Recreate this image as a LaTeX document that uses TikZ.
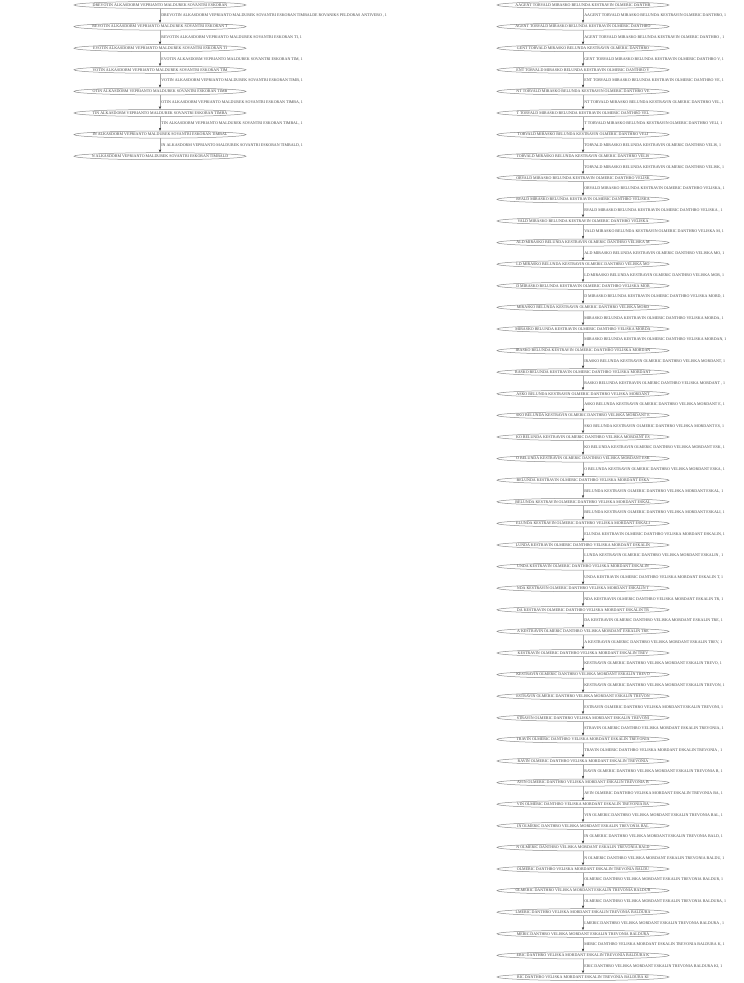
\documentclass[tikz,border=0pt]{standalone}
\usepackage{fontspec}
\setmainfont{Liberation Serif}
\usetikzlibrary{arrows.meta,shapes.geometric}
\ExplSyntaxOn
\str_new:N \g_rs_right_str
\str_new:N \g_rs_left_str
\NewDocumentCommand\rsSetRight{m}{\str_gset:Nn \g_rs_right_str {#1}}
\NewDocumentCommand\rsSetLeft{m}{\str_gset:Nn \g_rs_left_str {#1}}
\cs_new:Npn \rsR #1#2 {\str_range:Nnn \g_rs_right_str {#1}{#2}}
\cs_new:Npn \rsL #1#2 {\str_range:Nnn \g_rs_left_str {#1}{#2}}
\ExplSyntaxOff
\rsSetRight{AAGENT TORVALD MIRASKO BELUNDA KESTRAVIN OLMERIC DANTHRO VELISKA MORDANT ESKALIN TREVONIA BALDURA KIMOSTEN PARVELIN ODRASKA}
\rsSetLeft{DREVOTIN ALKASDORM VEPRIANTO MALDUREK SOVANTRI ESKORAN TIMBALDE ROVANIKS PELDORAS ANTIVERO MUSKARDEN}
\tikzset{
  ell/.style={ellipse, draw=black!45, line width=0.5pt, minimum width=172pt, minimum height=7pt,
    inner xsep=-25pt, inner ysep=0pt, font=\fontsize{4}{4}\selectfont, text=black!75},
  edge/.style={draw=black!35, line width=0.7pt, -{Stealth[length=3pt,width=2.2pt,color=black!85]}},
  lbl/.style={anchor=west, inner sep=1pt, font=\fontsize{4}{4}\selectfont, text=black!75}
}
\begin{document}
\begin{tikzpicture}[x=1pt,y=-1pt]
\useasboundingbox (0,0) rectangle (744,983);
% left chain
\foreach \i in {0,...,7} {
  \pgfmathsetmacro\yy{5+21.6*\i}
  \pgfmathtruncatemacro\a{\i+1}
  \pgfmathtruncatemacro\b{\i+55}
  \node[ell] (L\i) at (160,\yy) {\rsL{\a}{\b}};
}
\draw[edge] (L0) -- (L1) node[lbl, midway] (LE0) {\rsL{1}{91}, 1};
\foreach \i in {1,...,6} {
  \pgfmathtruncatemacro\j{\i+1}
  \pgfmathtruncatemacro\a{\i+1}
  \pgfmathtruncatemacro\c{\i+56}
  \draw[edge] (L\i) -- (L\j) node[lbl, midway] (LE\i) {\rsL{\a}{\c}, 1};
}
% right chain
\foreach \i in {0,...,45} {
  \pgfmathsetmacro\yy{5+21.6*\i}
  \pgfmathtruncatemacro\a{\i+1}
  \pgfmathtruncatemacro\b{\i+55}
  \node[ell] (R\i) at (583,\yy) {\rsR{\a}{\b}};
}
\foreach \i in {0,...,44} {
  \pgfmathtruncatemacro\j{\i+1}
  \pgfmathtruncatemacro\a{\i+1}
  \pgfmathtruncatemacro\c{\i+56}
  \draw[edge] (R\i) -- (R\j) node[lbl, midway] (RE\i) {\rsR{\a}{\c}, 1};
}
\end{tikzpicture}
\end{document}
